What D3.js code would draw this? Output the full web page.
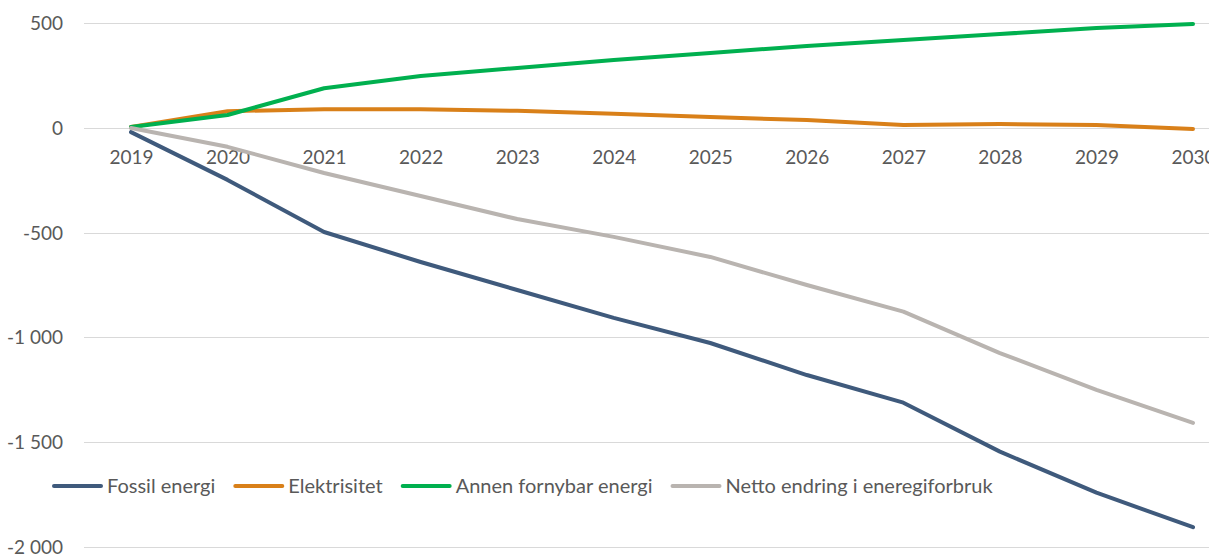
<!DOCTYPE html>
<html>
<head>
<meta charset="utf-8">
<script src="https://cdn.jsdelivr.net/npm/d3@7"></script>
<style>
  html, body { margin: 0; padding: 0; background: #fff; }
  svg { display: block; }
  text { font-family: Lato, "Open Sans", sans-serif; fill: #595959; }
</style>
</head>
<body>
<svg id="chart" width="1209" height="554"></svg>
<script>
// Years on the category axis
const years = ["2019","2020","2021","2022","2023","2024","2025","2026","2027","2028","2029","2030"];

// Change in energy use per series
const fossil     = [-20, -248, -497, -640, -774, -907, -1027, -1180, -1312, -1546, -1742, -1907];
const elektrisk  = [5, 80, 90, 90, 82, 68, 52, 38, 14, 19, 14, -5];
const fornybar   = [5, 62, 190, 248, 287, 325, 358, 392, 420, 449, 477, 497];
const netto      = [0, -90, -215, -325, -435, -520, -616, -750, -877, -1075, -1251, -1409];

const seriesNames  = ["Fossil energi", "Elektrisitet", "Annen fornybar energi", "Netto endring i eneregiforbruk"];
const seriesColors = ["#3f5a7c", "#d98019", "#00b04f", "#b9b4b0"];
const yTicks = [500, 0, -500, -1000, -1500, -2000];

const series = [fossil, elektrisk, fornybar, netto].map((v, i) => ({
  name: seriesNames[i], color: seriesColors[i], values: v
}));

const svg = d3.select("#chart");

const x = d3.scalePoint().domain(years).range([131, 1193]);
const y = d3.scaleLinear().domain([-2000, 500]).range([546.7, 23.3]);

// Norwegian style: space as thousands separator, plain hyphen as minus
const nb = d3.formatLocale({ decimal: ",", thousands: " ", grouping: [3], currency: ["", " kr"], minus: "-" });
const fmt = nb.format(",");

// Horizontal gridlines
svg.append("g").selectAll("line").data(yTicks).join("line")
  .attr("x1", 84).attr("x2", 1209)
  .attr("y1", d => Math.round(y(d)) + 0.5).attr("y2", d => Math.round(y(d)) + 0.5)
  .attr("stroke", "#d9d9d9").attr("stroke-width", 1);

// Y axis labels
const yAxis = svg.append("g").attr("transform", "translate(63,0)")
  .call(d3.axisLeft(y).tickValues(yTicks).tickFormat(fmt).tickSize(0).tickPadding(0));
yAxis.select(".domain").remove();
yAxis.selectAll("text").style("font-size", "19px").attr("fill", "#595959").attr("dy", "0.35em");

// X axis labels just below the zero line
const xAxis = svg.append("g").attr("transform", `translate(0,${y(0)})`)
  .call(d3.axisBottom(x).tickSize(0).tickPadding(0));
xAxis.select(".domain").remove();
xAxis.selectAll("text").style("font-size", "19px").attr("fill", "#595959")
  .attr("y", 29).attr("dy", "0.35em");

// Series lines
const line = d3.line().x((d, i) => x(years[i])).y(d => y(d));
svg.append("g").selectAll("path").data(series).join("path")
  .attr("d", d => line(d.values))
  .attr("fill", "none")
  .attr("stroke", d => d.color)
  .attr("stroke-width", 4)
  .attr("stroke-linejoin", "round")
  .attr("stroke-linecap", "round");

// Legend, laid out left to right
const legend = svg.append("g").attr("transform", "translate(0,486)");
let lx = 53;
series.forEach(s => {
  const g = legend.append("g").attr("transform", `translate(${lx},0)`);
  g.append("line").attr("x1", 1).attr("x2", 48).attr("y1", 0).attr("y2", 0)
    .attr("stroke", s.color).attr("stroke-width", 4).attr("stroke-linecap", "round");
  const t = g.append("text").attr("x", 54).attr("dy", "0.35em")
    .style("font-size", "20px").attr("fill", "#595959").text(s.name);
  lx += 54 + t.node().getComputedTextLength() + 19;
});
</script>
</body>
</html>
